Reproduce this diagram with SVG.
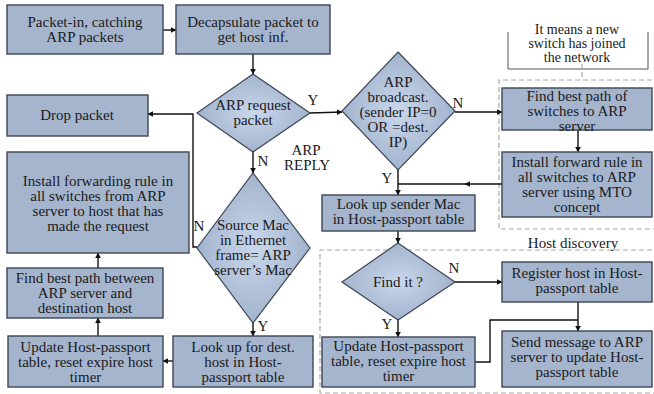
<svg xmlns="http://www.w3.org/2000/svg" width="654" height="394" viewBox="0 0 654 394">
<defs>
<radialGradient id="dg" cx="50%" cy="50%" r="55%">
<stop offset="0" stop-color="#c9d7ec"/>
<stop offset="1" stop-color="#9eb0ca"/>
</radialGradient>
<marker id="ah" viewBox="0 0 10 10" refX="9" refY="5" markerWidth="6" markerHeight="6" orient="auto" markerUnits="userSpaceOnUse">
<path d="M0,0 L10,5 L0,10 z" fill="#111"/>
</marker>
<style>
.box{fill:#a5b5ce;stroke:#3d4656;stroke-width:1.4}
.dia{fill:url(#dg);stroke:#3d4656;stroke-width:1.2}
text{font-family:"Liberation Serif","Times New Roman","DejaVu Serif",serif;font-size:15px;fill:#1a1a1a;text-anchor:middle}
.sm{font-size:14px}
.c{fill:none;stroke:#111;stroke-width:1.4}
.dash{fill:none;stroke:#a8a8a8;stroke-width:1.2;stroke-dasharray:5 3}
.call{fill:none;stroke:#555;stroke-width:1}
</style>
</defs>
<rect width="654" height="394" fill="#fff"/>

<g id="groups">
<path class="dash" d="M660,80 H499 V229 H660"/>
<path class="dash" d="M660,250 H320 V393 H660"/>
<path class="call" d="M508,32 V69 H648 V32"/>
<line class="dash" x1="582" y1="64" x2="582" y2="80"/>
<text class="sm" x="577" y="34">It means a new</text>
<text class="sm" x="577" y="48">switch has joined</text>
<text class="sm" x="577" y="62">the network</text>
<text x="573" y="248">Host discovery</text>
</g>

<g id="connectors">
<line class="c" x1="163" y1="30" x2="176" y2="30" marker-end="url(#ah)"/>
<line class="c" x1="253" y1="54" x2="253" y2="74" marker-end="url(#ah)"/>
<line class="c" x1="310" y1="113" x2="342" y2="112" marker-end="url(#ah)"/>
<line class="c" x1="253" y1="152" x2="253" y2="173" marker-end="url(#ah)"/>
<polyline class="c" points="197,247 193,247 193,114 148,114" marker-end="url(#ah)"/>
<line class="c" x1="253" y1="323" x2="253" y2="336" marker-end="url(#ah)"/>
<line class="c" x1="173" y1="361" x2="163" y2="361" marker-end="url(#ah)"/>
<line class="c" x1="98" y1="336" x2="98" y2="318" marker-end="url(#ah)"/>
<line class="c" x1="98" y1="268" x2="98" y2="253" marker-end="url(#ah)"/>
<line class="c" x1="455" y1="112" x2="502" y2="112" marker-end="url(#ah)"/>
<line class="c" x1="578" y1="130" x2="578" y2="152" marker-end="url(#ah)"/>
<line class="c" x1="502" y1="184" x2="465" y2="184" marker-end="url(#ah)"/>
<line class="c" x1="466" y1="184" x2="398" y2="184"/>
<line class="c" x1="398" y1="170" x2="398" y2="195" marker-end="url(#ah)"/>
<line class="c" x1="398" y1="231" x2="398" y2="243" marker-end="url(#ah)"/>
<line class="c" x1="455" y1="282" x2="502" y2="282" marker-end="url(#ah)"/>
<line class="c" x1="398" y1="320" x2="398" y2="337" marker-end="url(#ah)"/>
<line class="c" x1="578" y1="302" x2="578" y2="331" marker-end="url(#ah)"/>
<polyline class="c" points="475,362 490,362 490,320 578,320"/>
<text x="313" y="105">Y</text>
<text x="263" y="166">N</text>
<text x="199" y="231">N</text>
<text x="263" y="331">Y</text>
<text x="458" y="108">N</text>
<text x="387" y="183">Y</text>
<text x="454" y="273">N</text>
<text x="387" y="329">Y</text>
<text x="306" y="155">ARP</text>
<text x="307" y="170">REPLY</text>
</g>

<g id="packet-in">
<rect class="box" x="7" y="5" width="156" height="49"/>
<text x="85" y="27">Packet-in, catching</text>
<text x="85" y="42">ARP packets</text>
</g>
<g id="decapsulate">
<rect class="box" x="176" y="5" width="154" height="49"/>
<text x="253" y="27">Decapsulate packet to</text>
<text x="253" y="42">get host inf.</text>
</g>
<g id="arp-request">
<polygon class="dia" points="253,74 310,113 253,152 197,113"/>
<text x="253" y="110">ARP request</text>
<text x="253" y="125">packet</text>
</g>
<g id="drop-packet">
<rect class="box" x="7" y="95" width="141" height="41"/>
<text x="77" y="120">Drop packet</text>
</g>
<g id="install-forwarding">
<rect class="box" x="7" y="152" width="182" height="101"/>
<text x="98" y="186">Install forwarding rule in</text>
<text x="98" y="201">all switches from ARP</text>
<text x="98" y="216">server to host that has</text>
<text x="98" y="231">made the request</text>
</g>
<g id="source-mac">
<polygon class="dia" points="253,173 310,248 253,323 197,248"/>
<text x="253" y="230">Source Mac</text>
<text x="253" y="245">in Ethernet</text>
<text x="253" y="260">frame= ARP</text>
<text x="253" y="275">server’s Mac</text>
</g>
<g id="find-path-dest">
<rect class="box" x="7" y="268" width="156" height="50"/>
<text x="85" y="283">Find best path between</text>
<text x="85" y="298">ARP server and</text>
<text x="85" y="313">destination host</text>
</g>
<g id="update-left">
<rect class="box" x="8" y="336" width="155" height="51"/>
<text x="85.5" y="351.5">Update Host-passport</text>
<text x="85.5" y="366.5">table, reset expire host</text>
<text x="85.5" y="381.5">timer</text>
</g>
<g id="lookup-dest">
<rect class="box" x="173" y="336" width="140" height="51"/>
<text x="243" y="351.5">Look up for dest.</text>
<text x="243" y="366.5">host in Host-</text>
<text x="243" y="381.5">passport table</text>
</g>
<g id="arp-broadcast">
<polygon class="dia" points="398,52 455,111 398,170 342,111"/>
<text x="398" y="87">ARP</text>
<text x="398" y="102">broadcast.</text>
<text x="398" y="117">(sender IP=0</text>
<text x="398" y="132">OR =dest.</text>
<text x="398" y="147">IP)</text>
</g>
<g id="find-path-switches">
<rect class="box" x="502" y="88" width="150" height="42"/>
<text x="577" y="101">Find best path of</text>
<text x="577" y="116">switches to ARP</text>
<text x="577" y="131">server</text>
</g>
<g id="install-forward-mto">
<rect class="box" x="502" y="152" width="150" height="65"/>
<text x="577" y="167">Install forward rule in</text>
<text x="577" y="182">all switches to ARP</text>
<text x="577" y="197">server using MTO</text>
<text x="577" y="212">concept</text>
</g>
<g id="lookup-sender">
<rect class="box" x="322" y="195" width="153" height="36"/>
<text x="398.5" y="209">Look up sender Mac</text>
<text x="398.5" y="224">in Host-passport table</text>
</g>
<g id="find-it">
<polygon class="dia" points="398,243 455,282 398,320 342,282"/>
<text x="398" y="287">Find it ?</text>
</g>
<g id="register-host">
<rect class="box" x="502" y="262" width="150" height="40"/>
<text x="577" y="278">Register host in Host-</text>
<text x="577" y="293">passport table</text>
</g>
<g id="send-message">
<rect class="box" x="502" y="331" width="150" height="56"/>
<text x="577" y="347">Send message to ARP</text>
<text x="577" y="362">server to update Host-</text>
<text x="577" y="377">passport table</text>
</g>
<g id="update-right">
<rect class="box" x="322" y="337" width="153" height="50"/>
<text x="398.5" y="351">Update Host-passport</text>
<text x="398.5" y="366">table, reset expire host</text>
<text x="398.5" y="381">timer</text>
</g>
</svg>
